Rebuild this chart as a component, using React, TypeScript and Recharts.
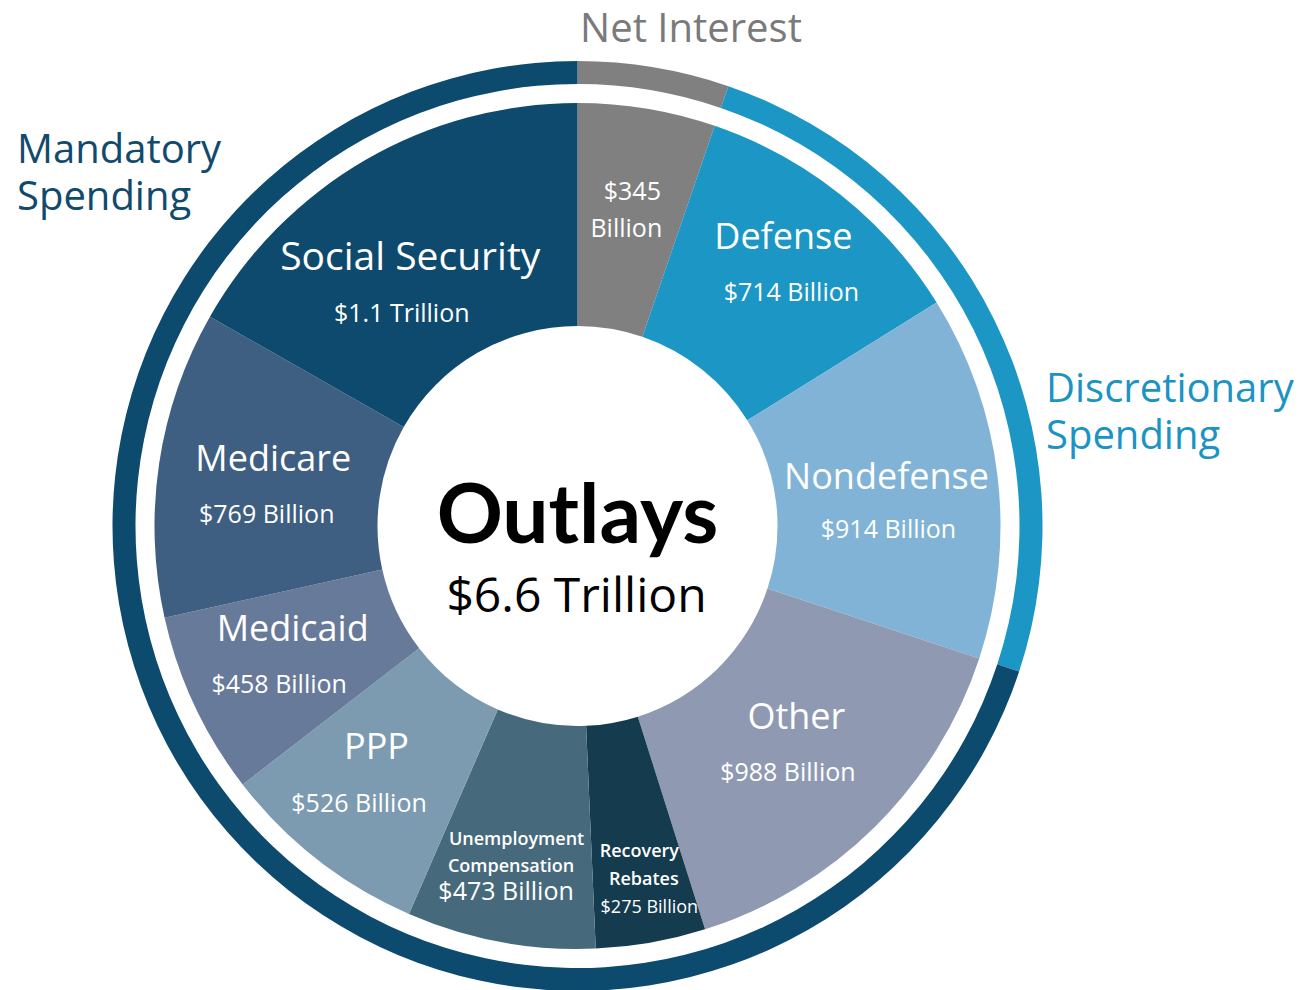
import React from 'react';
import { PieChart, Pie, Cell, Label } from 'recharts';

// ---- data ----
const categories = ['Net Interest', 'Defense', 'Nondefense', 'Other', 'Recovery Rebates', 'Unemployment Compensation', 'PPP', 'Medicaid', 'Medicare', 'Social Security'];
const outlays = [345, 714, 914, 988, 275, 473, 526, 458, 769, 1100];
const outlayLabels = ['$345 Billion', '$714 Billion', '$914 Billion', '$988 Billion', '$275 Billion', '$473 Billion', '$526 Billion', '$458 Billion', '$769 Billion', '$1.1 Trillion'];
const groupNames = ['Net Interest', 'Discretionary Spending', 'Mandatory Spending'];
const sliceGroup = [0, 1, 1, 2, 2, 2, 2, 2, 2, 2];
const totalTitle = 'Outlays';
const totalValue = '$6.6 Trillion';

// ---- styles ----
const sliceColors = ['#808080', '#1b96c5', '#80b3d6', '#8f9ab2', '#153b4e', '#466a7c', '#7c9bb0', '#687a99', '#3e5e82', '#0e4a6e'];
const groupColors = ['#808080', '#1b96c5', '#0c4a6e'];
const groupTextColors = ['#7a7a7a', '#1b93c3', '#104a6c'];
const FONT = '"Open Sans", "Noto Sans", sans-serif';

const CX = 577.5;
const CY = 526;

type Row = { src: 'n' | 'v'; part: number; dx: number; dy: number; fs: number; fw?: number };
const sliceLayout: { r: number; da: number; rows: Row[] }[] = [
  { r: 321, da: 0.8, rows: [{ src: 'v', part: 0, dx: 6.5, dy: -8.5, fs: 25 }, { src: 'v', part: 1, dx: 0.5, dy: 28.5, fs: 25 }] },
  { r: 337, da: 0, rows: [{ src: 'n', part: -1, dx: -4, dy: -13.5, fs: 36 }, { src: 'v', part: -1, dx: 4, dy: 38.5, fs: 25 }] },
  { r: 311, da: -2.2, rows: [{ src: 'n', part: -1, dx: -1, dy: -12, fs: 36 }, { src: 'v', part: -1, dx: 1, dy: 37, fs: 25 }] },
  { r: 305, da: 0, rows: [{ src: 'n', part: -1, dx: 4.5, dy: -13.5, fs: 36 }, { src: 'v', part: -1, dx: -4, dy: 38.5, fs: 25 }] },
  { r: 359, da: 0.8, rows: [{ src: 'n', part: 0, dx: -5.5, dy: -22, fs: 18, fw: 600 }, { src: 'n', part: 1, dx: -1, dy: 6, fs: 18, fw: 600 }, { src: 'v', part: -1, dx: 4.5, dy: 34, fs: 18 }] },
  { r: 347, da: -0.7, rows: [{ src: 'n', part: 0, dx: 6.5, dy: -21.5, fs: 18, fw: 600 }, { src: 'n', part: 1, dx: 1, dy: 5.5, fs: 18, fw: 600 }, { src: 'v', part: -1, dx: -4, dy: 33.5, fs: 25 }] },
  { r: 324, da: -2.6, rows: [{ src: 'n', part: -1, dx: 9.5, dy: -13.5, fs: 36 }, { src: 'v', part: -1, dx: -8, dy: 39.5, fs: 25 }] },
  { r: 319, da: -1.5, rows: [{ src: 'n', part: -1, dx: 7.5, dy: -12.5, fs: 36 }, { src: 'v', part: -1, dx: -6, dy: 39.5, fs: 25 }] },
  { r: 310, da: 0.9, rows: [{ src: 'n', part: -1, dx: 3, dy: -13.5, fs: 36 }, { src: 'v', part: -1, dx: -3.5, dy: 38.5, fs: 25 }] },
  { r: 298, da: 4.9, rows: [{ src: 'n', part: -1, dx: 4, dy: -12, fs: 39 }, { src: 'v', part: -1, dx: -4.5, dy: 40, fs: 25 }] },
];

const groupLayout: { anchor: 'start' | 'middle'; dx: number; dys: number[] }[] = [
  { anchor: 'middle', dx: 113.5, dys: [-484] },
  { anchor: 'start', dx: 468.5, dys: [-124, -77] },
  { anchor: 'start', dx: -560.5, dys: [-363, -316] },
];

const RAD = Math.PI / 180;

const sliceData = categories.map((name, i) => ({ name, value: outlays[i], label: outlayLabels[i] }));
const groupData = groupNames.map((name, g) => ({
  name,
  value: outlays.reduce((s, v, i) => (sliceGroup[i] === g ? s + v : s), 0),
}));

function splitText(t: string, part: number): string {
  if (part < 0) return t;
  const k = t.indexOf(' ');
  if (k < 0) return t;
  return part === 0 ? t.slice(0, k) : t.slice(k + 1);
}

const renderSliceLabel = (props: any) => {
  const { cx, cy, midAngle, index } = props;
  const lay = sliceLayout[index];
  if (!lay) return null;
  const a = (midAngle + lay.da) * RAD;
  const x = cx + lay.r * Math.cos(a);
  const y = cy - lay.r * Math.sin(a);
  const d = sliceData[index];
  return (
    <g key={`sl-${index}`}>
      {lay.rows.map((row, j) => (
        <text
          key={j}
          x={x + row.dx}
          y={y + row.dy}
          textAnchor="middle"
          fill="#ffffff"
          fontFamily={FONT}
          fontSize={row.fs}
          fontWeight={row.fw || 400}
        >
          {splitText(row.src === 'n' ? d.name : d.label, row.part)}
        </text>
      ))}
    </g>
  );
};

const renderGroupLabel = (props: any) => {
  const { cx, cy, index } = props;
  const lay = groupLayout[index];
  const name = groupNames[index];
  const parts = lay.dys.length > 1 ? [splitText(name, 0), splitText(name, 1)] : [name];
  return (
    <g key={`gl-${index}`}>
      {parts.map((p, j) => (
        <text
          key={j}
          x={cx + lay.dx}
          y={cy + lay.dys[j]}
          textAnchor={lay.anchor}
          fill={groupTextColors[index]}
          fontFamily={FONT}
          fontSize={40}
          fontWeight={400}
        >
          {p}
        </text>
      ))}
    </g>
  );
};

const renderCenter = (props: any) => {
  const vb = props.viewBox || {};
  const cx = vb.cx ?? CX;
  const cy = vb.cy ?? CY;
  return (
    <g>
      <text x={cx} y={cy + 17} textAnchor="middle" fill="#000" fontFamily='Lato, "Open Sans", sans-serif' fontWeight={700} fontSize={82}>
        {totalTitle}
      </text>
      <text x={cx - 1} y={cy + 86} textAnchor="middle" fill="#000" fontFamily={FONT} fontSize={48}>
        {totalValue}
      </text>
    </g>
  );
};

export default function App() {
  return (
    <div style={{ position: 'absolute', left: 0, top: 0, width: 1308, height: 990, background: '#fff', overflow: 'hidden' }}>
      <PieChart width={1308} height={990} margin={{ top: 0, right: 0, bottom: 0, left: 0 }}>
        <Pie
          data={groupData}
          dataKey="value"
          nameKey="name"
          cx={CX}
          cy={CY}
          innerRadius={442}
          outerRadius={465}
          startAngle={90}
          endAngle={-270}
          stroke="none"
          isAnimationActive={false}
          label={renderGroupLabel}
          labelLine={false}
        >
          {groupData.map((_, i) => (
            <Cell key={i} fill={groupColors[i]} />
          ))}
        </Pie>
        <Pie
          data={sliceData}
          dataKey="value"
          nameKey="name"
          cx={CX}
          cy={CY}
          innerRadius={200}
          outerRadius={423}
          startAngle={90}
          endAngle={-270}
          stroke="none"
          isAnimationActive={false}
          label={renderSliceLabel}
          labelLine={false}
        >
          {sliceData.map((_, i) => (
            <Cell key={i} fill={sliceColors[i]} />
          ))}
          <Label position="center" content={renderCenter} />
        </Pie>
      </PieChart>
    </div>
  );
}
